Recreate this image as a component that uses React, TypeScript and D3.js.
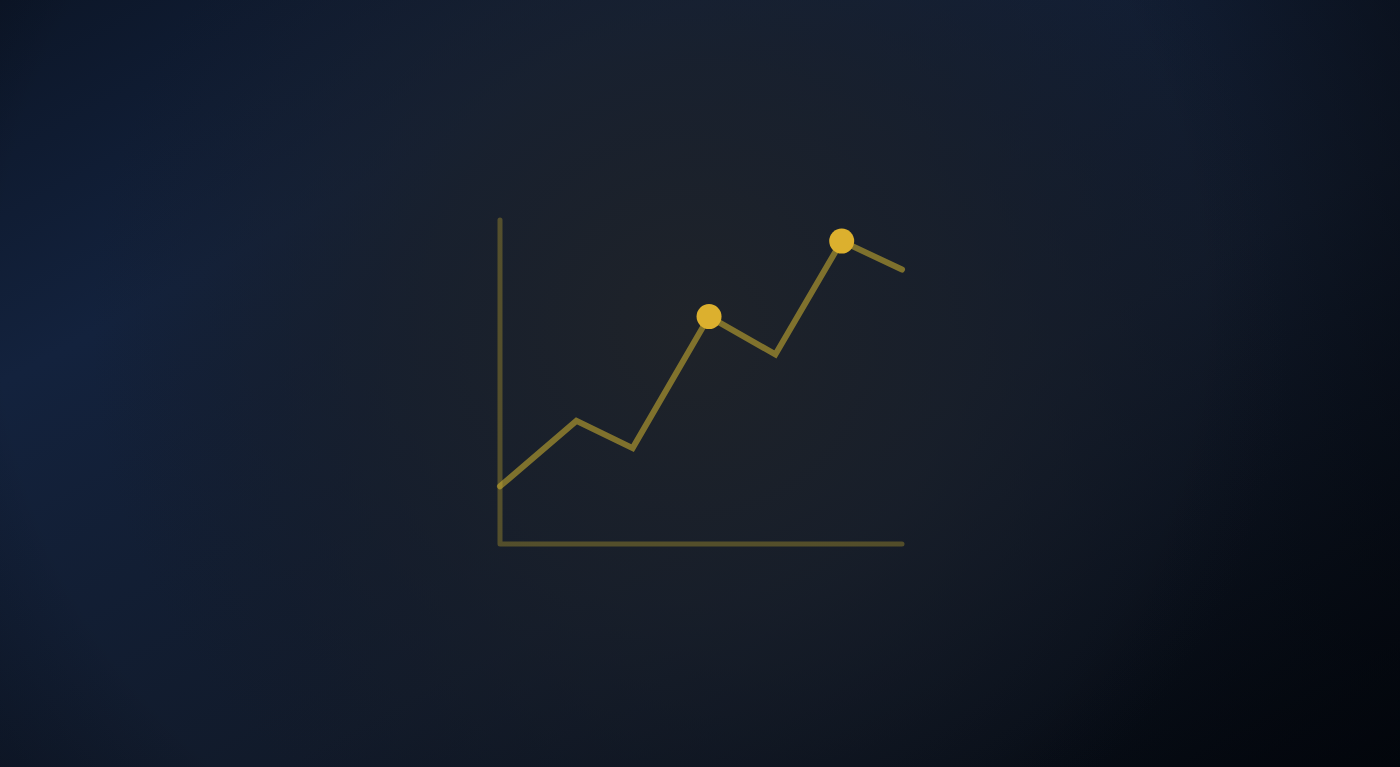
import { useEffect, useRef } from "react";
import * as d3 from "d3";

// horizontal position of each vertex (0..100 along the x-axis)
const xValues = [0, 19, 33, 52, 68.5, 85, 100];
// vertical value of each vertex (0..100 along the y-axis)
const yValues = [17.8, 38, 29.6, 70.2, 58.5, 93.5, 84.7];
// indices of the vertices drawn with a dot
const highlighted = [3, 5];

const WIDTH = 1400;
const HEIGHT = 767;

const App = () => {
  const svgRef = useRef<SVGSVGElement>(null);

  useEffect(() => {
    if (!svgRef.current) return;
    d3.select(svgRef.current).selectAll("*").remove();

    const svg = d3.select(svgRef.current).attr("width", WIDTH).attr("height", HEIGHT);
    const defs = svg.append("defs");

    // background: blue-ish diagonal fade with a grey glow in the middle
    const lin = defs
      .append("linearGradient")
      .attr("id", "bg-lin")
      .attr("x1", "0%")
      .attr("y1", "0%")
      .attr("x2", "100%")
      .attr("y2", "100%");
    lin.append("stop").attr("offset", "0%").attr("stop-color", "#0c1628");
    lin.append("stop").attr("offset", "25%").attr("stop-color", "#13223d");
    lin.append("stop").attr("offset", "60%").attr("stop-color", "#111a2a");
    lin.append("stop").attr("offset", "100%").attr("stop-color", "#03070d");

    const glow = defs
      .append("radialGradient")
      .attr("id", "bg-glow")
      .attr("gradientUnits", "userSpaceOnUse")
      .attr("cx", 690)
      .attr("cy", 330)
      .attr("r", 600);
    glow.append("stop").attr("offset", "0%").attr("stop-color", "#1f2329").attr("stop-opacity", 1);
    glow.append("stop").attr("offset", "45%").attr("stop-color", "#1a202a").attr("stop-opacity", 0.75);
    glow.append("stop").attr("offset", "100%").attr("stop-color", "#151b27").attr("stop-opacity", 0);

    const vignette = defs
      .append("radialGradient")
      .attr("id", "bg-vig")
      .attr("gradientUnits", "userSpaceOnUse")
      .attr("cx", 600)
      .attr("cy", 300)
      .attr("r", 1000);
    vignette.append("stop").attr("offset", "60%").attr("stop-color", "#02050b").attr("stop-opacity", 0);
    vignette.append("stop").attr("offset", "100%").attr("stop-color", "#02050b").attr("stop-opacity", 0.7);

    svg.append("rect").attr("width", WIDTH).attr("height", HEIGHT).attr("fill", "url(#bg-lin)");
    svg.append("rect").attr("width", WIDTH).attr("height", HEIGHT).attr("fill", "url(#bg-glow)");
    svg.append("rect").attr("width", WIDTH).attr("height", HEIGHT).attr("fill", "url(#bg-vig)");

    const x = d3.scaleLinear().domain([0, 100]).range([500, 902]);
    const y = d3.scaleLinear().domain([0, 100]).range([544, 220]);

    const lineGold = "#d2b430";
    const dotGold = "#dcb02e";

    // axes
    svg
      .append("path")
      .attr("d", `M${x(0)},${y(100)} L${x(0)},${y(0)} L${x(100)},${y(0)}`)
      .attr("fill", "none")
      .attr("stroke", lineGold)
      .attr("stroke-opacity", 0.32)
      .attr("stroke-width", 5)
      .attr("stroke-linecap", "round")
      .attr("stroke-linejoin", "round");

    const points = xValues.map((v, i) => ({ x: v, y: yValues[i] }));

    const line = d3
      .line<{ x: number; y: number }>()
      .x((d) => x(d.x))
      .y((d) => y(d.y));

    svg
      .append("path")
      .datum(points)
      .attr("fill", "none")
      .attr("stroke", lineGold)
      .attr("stroke-opacity", 0.55)
      .attr("stroke-width", 6)
      .attr("stroke-linecap", "round")
      .attr("stroke-linejoin", "miter")
      .attr("d", line);

    svg
      .selectAll(".dot")
      .data(highlighted.map((i) => points[i]))
      .enter()
      .append("circle")
      .attr("class", "dot")
      .attr("cx", (d) => x(d.x))
      .attr("cy", (d) => y(d.y))
      .attr("r", 12.5)
      .attr("fill", dotGold);
  }, []);

  return (
    <div style={{ position: "absolute", left: 0, top: 0, width: WIDTH, height: HEIGHT, overflow: "hidden" }}>
      <svg ref={svgRef} width={WIDTH} height={HEIGHT} style={{ display: "block" }} />
    </div>
  );
};

export default App;
